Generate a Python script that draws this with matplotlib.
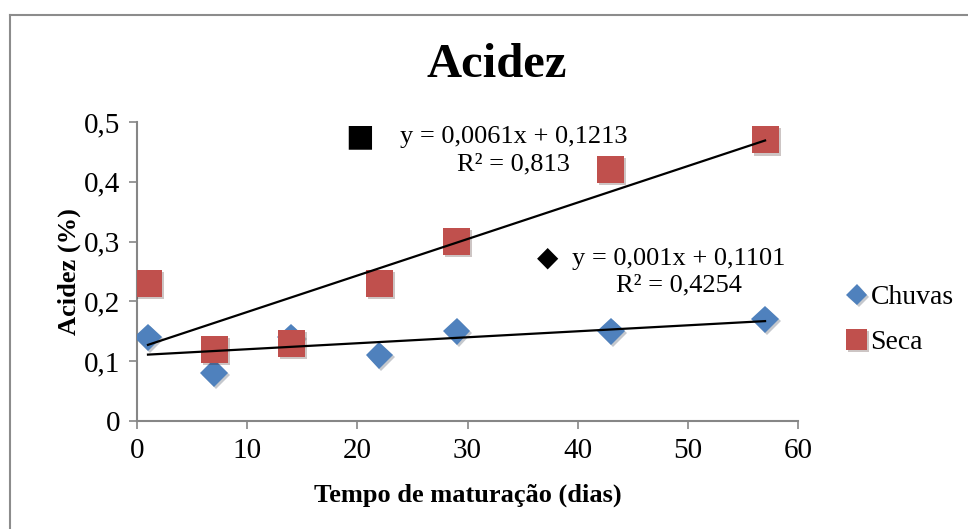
import numpy as np
import matplotlib
matplotlib.use("Agg")
import matplotlib.pyplot as plt
import matplotlib.patheffects as pe
from matplotlib.lines import Line2D
from matplotlib.ticker import FuncFormatter

# data
dias = [1, 7, 14, 22, 29, 43, 57]
chuvas = [0.14, 0.08, 0.14, 0.11, 0.15, 0.15, 0.17]
seca = [0.23, 0.12, 0.13, 0.23, 0.30, 0.42, 0.47]

# trendline coefficients shown on the chart
seca_fit = (0.0061, 0.1213, 0.813)
chuvas_fit = (0.001, 0.1101, 0.4254)

plt.rcParams['font.family'] = ['Liberation Serif', 'DejaVu Serif']

fig = plt.figure(figsize=(9.68, 5.29), dpi=100)
ax = fig.add_axes([0.1415, 0.204, 0.683, 0.5655])

# outer chart border (only top and left visible)
fig.add_artist(Line2D([0.0108, 0.0108], [0, 0.9716], color='#8c8c8c', lw=1.5))
fig.add_artist(Line2D([0.0108, 1], [0.9716, 0.9716], color='#8c8c8c', lw=1.5))

shadow = [pe.SimplePatchShadow(offset=(1.5, -1.5), alpha=0.25), pe.Normal()]

ax.plot(dias, chuvas, 'D', color='#4F81BD', markersize=14, markeredgewidth=0,
        label='Chuvas', path_effects=shadow, zorder=3)
ax.plot(dias, seca, 's', color='#C0504D', markersize=19.5, markeredgewidth=0,
        label='Seca', path_effects=shadow, zorder=3)

# linear trendlines
xs = np.array([dias[0], dias[-1]])
ax.plot(xs, seca_fit[0] * xs + seca_fit[1], color='black', lw=1.6, zorder=4)
ax.plot(xs, chuvas_fit[0] * xs + chuvas_fit[1], color='black', lw=1.6, zorder=4)

def fmt(v):
    return f"{v:.4f}".rstrip('0').rstrip('.').replace('.', ',')

ax.text(34.2, 0.452, f"y = {fmt(seca_fit[0])}x + {fmt(seca_fit[1])}\nR² = {fmt(seca_fit[2])}",
        ha='center', va='center', fontsize=19, linespacing=1.3)
ax.text(20.2, 0.476, "■", family='DejaVu Sans', fontsize=22, ha='center', va='center')
ax.text(49.2, 0.249, f"y = {fmt(chuvas_fit[0])}x + {fmt(chuvas_fit[1])}\nR² = {fmt(chuvas_fit[2])}",
        ha='center', va='center', fontsize=19, linespacing=1.3)
ax.text(37.3, 0.273, "◆", family='DejaVu Sans', fontsize=20, ha='center', va='center')

ax.set_xlim(0, 60)
ax.set_ylim(0, 0.5)
ax.set_xticks(range(0, 61, 10))
ax.set_yticks(np.arange(0, 0.51, 0.1))
ax.yaxis.set_major_formatter(FuncFormatter(lambda v, p: fmt(round(v, 1))))
ax.tick_params(labelsize=21, color='#868686', length=6, width=1.2, direction='out', pad=6)

for s in ['top', 'right']:
    ax.spines[s].set_visible(False)
for s in ['left', 'bottom']:
    ax.spines[s].set_color('#868686')
    ax.spines[s].set_linewidth(1.5)

fig.text(0.513, 0.877, 'Acidez', fontsize=35, fontweight='bold', ha='center', va='center')
ax.set_xlabel('Tempo de maturação (dias)', fontsize=19, fontweight='bold', labelpad=14)
ax.set_ylabel('Acidez (%)', fontsize=19, fontweight='bold', labelpad=2)

fig.legend(loc='center left', bbox_to_anchor=(0.849, 0.395), frameon=False,
           fontsize=20, handlelength=0.7, handletextpad=0.15, labelspacing=0.7,
           markerscale=0.75)

fig.savefig('out.png', dpi=100)
